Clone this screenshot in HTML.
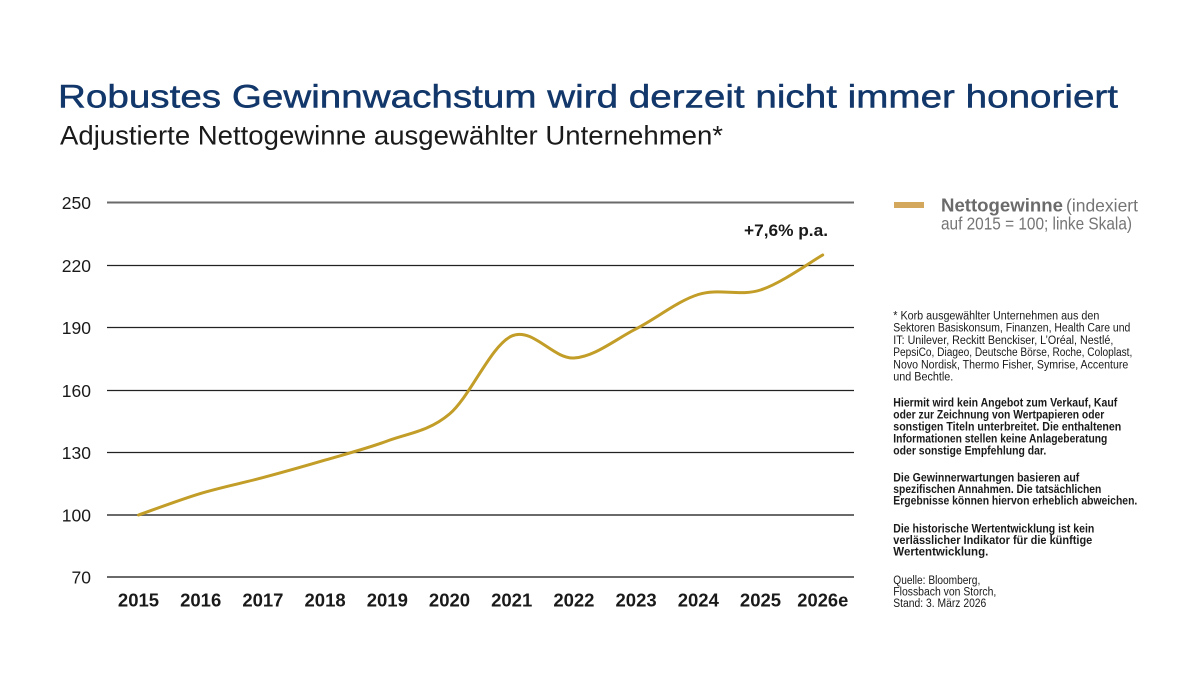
<!DOCTYPE html>
<html>
<head>
<meta charset="utf-8">
<style>
  html, body { margin: 0; padding: 0; background: #ffffff; }
  body { width: 1200px; height: 675px; overflow: hidden; }
  svg { display: block; }
  text { font-family: "Liberation Sans", "DejaVu Sans", sans-serif; }
</style>
</head>
<body>
<svg width="1200" height="675" viewBox="0 0 1200 675" xmlns="http://www.w3.org/2000/svg">
  <rect x="0" y="0" width="1200" height="675" fill="#ffffff"/>

  <!-- Title -->
  <text x="58" y="107.7" font-size="32" fill="#12376a" stroke="#12376a" stroke-width="0.45" textLength="1060" lengthAdjust="spacingAndGlyphs">Robustes Gewinnwachstum wird derzeit nicht immer honoriert</text>
  <text x="60" y="144.3" font-size="27" fill="#1a1a1a" textLength="663" lengthAdjust="spacingAndGlyphs">Adjustierte Nettogewinne ausgewählter Unternehmen*</text>

  <!-- Gridlines -->
  <g>
    <line x1="107" y1="202.5" x2="854" y2="202.5" stroke="#6a6a6a" stroke-width="2"/>
    <line x1="107" y1="265.5" x2="854" y2="265.5" stroke="#222222" stroke-width="1.2"/>
    <line x1="107" y1="327.5" x2="854" y2="327.5" stroke="#222222" stroke-width="1.2"/>
    <line x1="107" y1="390.5" x2="854" y2="390.5" stroke="#222222" stroke-width="1.2"/>
    <line x1="107" y1="452.5" x2="854" y2="452.5" stroke="#222222" stroke-width="1.2"/>
    <line x1="107" y1="515" x2="854" y2="515" stroke="#6a6a6a" stroke-width="2"/>
    <line x1="107" y1="577" x2="854" y2="577" stroke="#6a6a6a" stroke-width="2"/>
  </g>

  <!-- Y axis labels -->
  <g font-size="17.5" fill="#1a1a1a" text-anchor="end">
    <text x="91" y="208.8">250</text>
    <text x="91" y="271.8">220</text>
    <text x="91" y="333.8">190</text>
    <text x="91" y="396.8">160</text>
    <text x="91" y="458.8">130</text>
    <text x="91" y="521.3">100</text>
    <text x="91" y="583.3">70</text>
  </g>

  <!-- X axis labels -->
  <g font-size="18.5" font-weight="bold" fill="#1a1a1a" text-anchor="middle">
    <text x="138.5" y="606.7">2015</text>
    <text x="200.7" y="606.7">2016</text>
    <text x="262.9" y="606.7">2017</text>
    <text x="325.1" y="606.7">2018</text>
    <text x="387.3" y="606.7">2019</text>
    <text x="449.5" y="606.7">2020</text>
    <text x="511.7" y="606.7">2021</text>
    <text x="573.9" y="606.7">2022</text>
    <text x="636.1" y="606.7">2023</text>
    <text x="698.3" y="606.7">2024</text>
    <text x="760.5" y="606.7">2025</text>
    <text x="822.8" y="606.7" textLength="51" lengthAdjust="spacingAndGlyphs">2026e</text>
  </g>

  <!-- Series line -->
  <path d="M138.5,515
           C148.87,511.4 179.97,499.63 200.7,493.4
           C221.43,487.17 242.17,483.15 262.9,477.6
           C283.63,472.05 304.37,466.2 325.1,460.1
           C345.83,454.0 366.57,448.68 387.3,441.0
           C408.03,433.32 428.77,431.5 449.5,414
           C470.23,396.5 490.97,345.33 511.7,336
           C532.43,326.67 553.17,359.2 573.9,358
           C594.63,356.8 615.37,339.38 636.1,328.8
           C656.83,318.22 677.57,300.97 698.3,294.5
           C719.03,288.03 739.77,296.58 760.5,290
           C781.23,283.42 812.33,260.83 822.7,255"
        fill="none" stroke="#c29d27" stroke-width="3" stroke-linecap="round" stroke-linejoin="round"/>

  <!-- Annotation -->
  <text x="744" y="236" font-size="17" font-weight="bold" fill="#1a1a1a" textLength="84" lengthAdjust="spacingAndGlyphs">+7,6% p.a.</text>

  <!-- Legend -->
  <rect x="894" y="202" width="30" height="6" fill="#d4a85c"/>
  <text x="941" y="211.7" font-size="18.5" font-weight="bold" fill="#6b6b6b" textLength="122" lengthAdjust="spacingAndGlyphs">Nettogewinne</text>
  <text x="1066" y="211.7" font-size="17.5" fill="#757575" textLength="72" lengthAdjust="spacingAndGlyphs">(indexiert</text>
  <text x="941" y="229.3" font-size="17.5" fill="#757575" textLength="191" lengthAdjust="spacingAndGlyphs">auf 2015 = 100; linke Skala)</text>

  <!-- Footnotes -->
  <g font-size="11.5" fill="#1a1a1a">
    <text x="893.3" y="319.5" textLength="206" lengthAdjust="spacingAndGlyphs">* Korb ausgewählter Unternehmen aus den</text>
    <text x="893.3" y="331.7" textLength="237" lengthAdjust="spacingAndGlyphs">Sektoren Basiskonsum, Finanzen, Health Care und</text>
    <text x="893.3" y="343.9" textLength="220" lengthAdjust="spacingAndGlyphs">IT: Unilever, Reckitt Benckiser, L’Oréal, Nestlé,</text>
    <text x="893.3" y="356.1" textLength="239" lengthAdjust="spacingAndGlyphs">PepsiCo, Diageo, Deutsche Börse, Roche, Coloplast,</text>
    <text x="893.3" y="368.3" textLength="235" lengthAdjust="spacingAndGlyphs">Novo Nordisk, Thermo Fisher, Symrise, Accenture</text>
    <text x="893.3" y="380.5" textLength="60" lengthAdjust="spacingAndGlyphs">und Bechtle.</text>
  </g>
  <g font-size="11.5" font-weight="bold" fill="#1a1a1a">
    <text x="893.3" y="406.5" textLength="224" lengthAdjust="spacingAndGlyphs">Hiermit wird kein Angebot zum Verkauf, Kauf</text>
    <text x="893.3" y="418.5" textLength="211" lengthAdjust="spacingAndGlyphs">oder zur Zeichnung von Wertpapieren oder</text>
    <text x="893.3" y="430.5" textLength="228" lengthAdjust="spacingAndGlyphs">sonstigen Titeln unterbreitet. Die enthaltenen</text>
    <text x="893.3" y="442.5" textLength="214" lengthAdjust="spacingAndGlyphs">Informationen stellen keine Anlageberatung</text>
    <text x="893.3" y="454.5" textLength="153" lengthAdjust="spacingAndGlyphs">oder sonstige Empfehlung dar.</text>

    <text x="893.3" y="481.5" textLength="186" lengthAdjust="spacingAndGlyphs">Die Gewinnerwartungen basieren auf</text>
    <text x="893.3" y="493" textLength="208" lengthAdjust="spacingAndGlyphs">spezifischen Annahmen. Die tatsächlichen</text>
    <text x="893.3" y="504.5" textLength="244" lengthAdjust="spacingAndGlyphs">Ergebnisse können hiervon erheblich abweichen.</text>

    <text x="893.3" y="532.7" textLength="201" lengthAdjust="spacingAndGlyphs">Die historische Wertentwicklung ist kein</text>
    <text x="893.3" y="544.2" textLength="199" lengthAdjust="spacingAndGlyphs">verlässlicher Indikator für die künftige</text>
    <text x="893.3" y="555.7" textLength="95" lengthAdjust="spacingAndGlyphs">Wertentwicklung.</text>
  </g>
  <g font-size="11.5" fill="#1a1a1a">
    <text x="893.3" y="584" textLength="87" lengthAdjust="spacingAndGlyphs">Quelle: Bloomberg,</text>
    <text x="893.3" y="595.5" textLength="103" lengthAdjust="spacingAndGlyphs">Flossbach von Storch,</text>
    <text x="893.3" y="607" textLength="93" lengthAdjust="spacingAndGlyphs">Stand: 3. März 2026</text>
  </g>
</svg>
</body>
</html>
